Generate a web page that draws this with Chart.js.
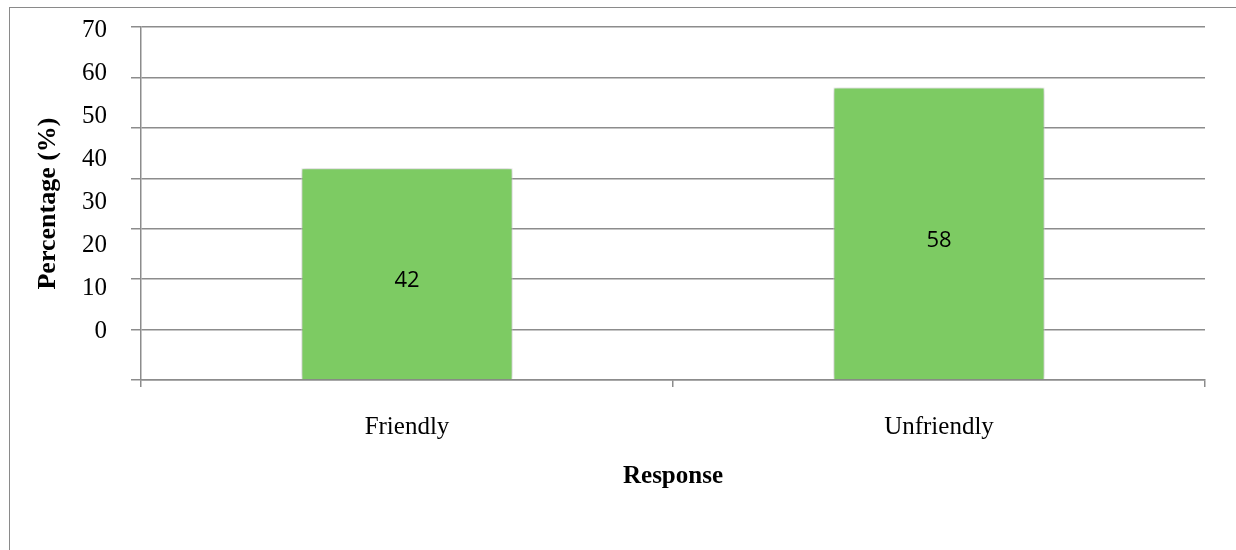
<!DOCTYPE html>
<html>
<head>
<meta charset="utf-8">
<script src="https://cdn.jsdelivr.net/npm/chart.js@4/dist/chart.umd.min.js"></script>
<style>
  html, body { margin: 0; padding: 0; background: #fff; }
  #wrap { position: relative; width: 1236px; height: 550px; overflow: hidden; }
  #frame { position: absolute; left: 9px; top: 7px; width: 1400px; height: 700px;
           border-left: 1.5px solid #8a8a8a; border-top: 1.5px solid #8a8a8a; }
  canvas { position: absolute; left: 0; top: 0; }
</style>
</head>
<body>
<div id="wrap">
  <div id="frame"></div>
  <canvas id="chart" width="1236" height="550"></canvas>
</div>
<script>
// Survey responses
const categories = ['Friendly', 'Unfriendly'];
const percentages = [42, 58];
const tickValues = [0, 10, 20, 30, 40, 50, 60, 70];
const xTitle = 'Response';
const yTitle = 'Percentage (%)';

const SERIF = '"Liberation Serif", "Times New Roman", serif';
const GRID = '#8c8c8c';
const BAR = 'rgb(125, 203, 99)';

// soft shadow around the bars
const barShadow = {
  id: 'barShadow',
  beforeDatasetsDraw(chart) {
    const ctx = chart.ctx;
    ctx.save();
    ctx.shadowColor = 'rgba(0,0,0,0.3)';
    ctx.shadowBlur = 6;
  },
  afterDatasetsDraw(chart) {
    chart.ctx.restore();
  }
};

// value written in the middle of each bar
const valueLabels = {
  id: 'valueLabels',
  afterDatasetsDraw(chart) {
    const ctx = chart.ctx;
    const meta = chart.getDatasetMeta(0);
    ctx.save();
    ctx.font = '22px "Open Sans", "Noto Sans", sans-serif';
    ctx.fillStyle = '#000';
    ctx.textAlign = 'center';
    ctx.textBaseline = 'middle';
    meta.data.forEach((bar, i) => {
      const p = bar.getProps(['x', 'y', 'base'], true);
      ctx.fillText(String(percentages[i]), p.x, (p.y + p.base) / 2 + 7);
    });
    ctx.restore();
  }
};

new Chart(document.getElementById('chart'), {
  type: 'bar',
  data: {
    labels: categories,
    datasets: [{
      data: percentages,
      backgroundColor: BAR,
      borderColor: 'rgba(255,255,255,0.9)',
      borderWidth: 1,
      categoryPercentage: 1,
      barPercentage: 0.397,
      xAxisID: 'x',
      yAxisID: 'y'
    }]
  },
  options: {
    responsive: false,
    animation: false,
    devicePixelRatio: 1,
    layout: { padding: { top: 27, right: 31, left: 0, bottom: 0 } },
    plugins: { legend: { display: false }, tooltip: { enabled: false } },
    scales: {
      x: {
        type: 'category',
        position: 'bottom',
        offset: true,
        grid: { offset: true, drawOnChartArea: false, drawTicks: true, tickLength: 7, color: GRID, lineWidth: 1.5 },
        border: { display: true, color: GRID, width: 1.5 },
        ticks: { font: { family: SERIF, size: 25 }, color: '#000', padding: 25 },
        title: { display: true, text: xTitle, color: '#000',
                 font: { family: SERIF, size: 25, weight: 'bold' }, padding: { top: 0, bottom: 58 } },
        afterFit(scale) { scale.height = 170; }
      },
      y: {
        type: 'linear',
        position: 'left',
        weight: 0,
        min: 0,
        max: 70,
        ticks: { display: false, stepSize: 10 },
        grid: { color: GRID, lineWidth: 1.5, drawTicks: true, tickLength: 10 },
        border: { display: true, color: GRID, width: 1.5 },
        afterFit(scale) { scale.width = 10; scale.paddingTop = 0; scale.paddingBottom = 0; }
      },
      yLabels: {
        type: 'linear',
        position: 'left',
        weight: 1,
        min: -11.41,
        max: 70.77,
        grid: { display: false, drawTicks: false },
        border: { display: false },
        ticks: { font: { family: SERIF, size: 25 }, color: '#000', padding: 24, autoSkip: false },
        afterBuildTicks(scale) { scale.ticks = tickValues.map(v => ({ value: v })); },
        title: { display: true, text: yTitle, color: '#000',
                 font: { family: SERIF, size: 26, weight: 'bold' }, padding: { top: 33, bottom: 0 } },
        afterFit(scale) { scale.width = 131; scale.paddingTop = 0; scale.paddingBottom = 0; }
      }
    }
  },
  plugins: [barShadow, valueLabels]
});
</script>
</body>
</html>
